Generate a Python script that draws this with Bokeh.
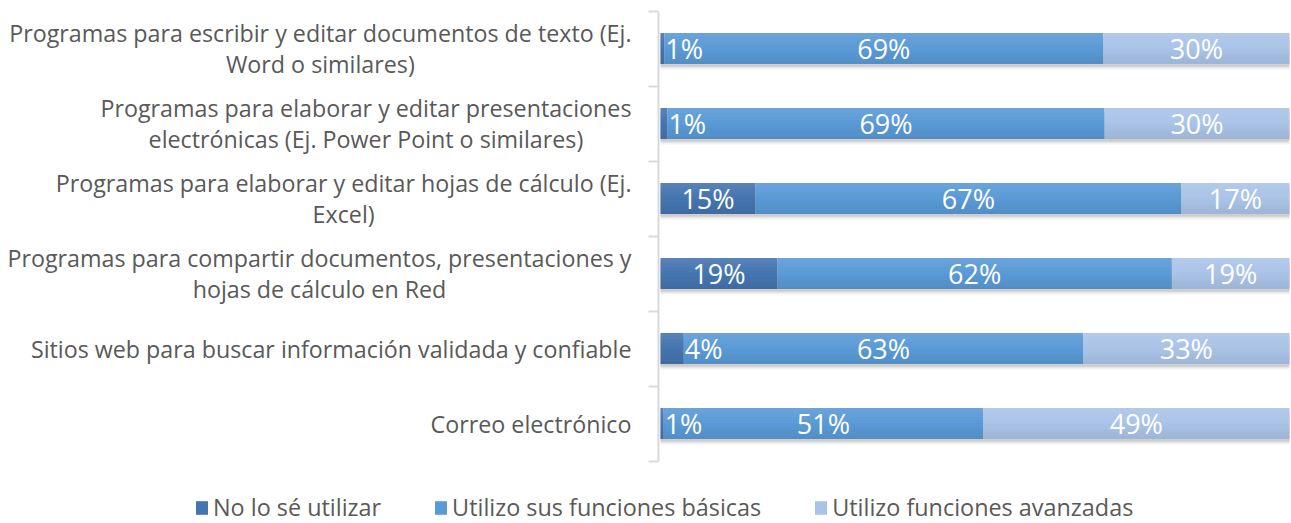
from bokeh.plotting import figure
from bokeh.models import Range1d, FixedTicker, Legend, LegendItem, ColumnDataSource, Label
from bokeh.transform import dodge
from bokeh.embed import file_html
from bokeh.resources import INLINE
from bokeh.core.properties import value

categories = [
    "Programas para escribir y editar documentos de texto (Ej.\nWord o similares)",
    "Programas para elaborar y editar presentaciones\nelectrónicas (Ej. Power Point o similares)",
    "Programas para elaborar y editar hojas de cálculo (Ej.\nExcel)",
    "Programas para compartir documentos, presentaciones y\nhojas de cálculo en Red",
    "Sitios web para buscar información validada y confiable",
    "Correo electrónico",
]
no_se = [0.6, 1.1, 15.1, 18.6, 3.7, 0.5]
basicas = [69.8, 69.5, 67.7, 62.7, 63.5, 50.8]
avanzadas = [29.6, 29.4, 17.2, 18.7, 32.8, 48.7]
labels_no = ["1%", "1%", "15%", "19%", "4%", "1%"]
labels_bas = ["69%", "69%", "67%", "62%", "63%", "51%"]
labels_av = ["30%", "30%", "17%", "19%", "33%", "49%"]
series_names = ["No lo sé utilizar", "Utilizo sus funciones básicas", "Utilizo funciones avanzadas"]
colors = ["#4575B0", "#5A9AD6", "#AAC4E8"]

FONT = "Open Sans"
TEXT_COLOR = "#595959"
n = len(categories)
ys = [n - i - 0.5 for i in range(n)]

p = figure(width=1291, height=523, output_backend="svg", toolbar_location=None,
           x_range=Range1d(-104.93, 100.32), y_range=Range1d(-0.8333, 6.14),
           x_axis_location=None, min_border=0)
p.outline_line_color = None
p.xgrid.visible = False
p.ygrid.visible = False
p.background_fill_color = "white"
p.border_fill_color = "white"

H = 0.415
base = ColumnDataSource(dict(y=ys, left=[0] * n, right=[100] * n))
# soft shadow under bars
for off, a in [(-0.075, 0.04), (-0.055, 0.06), (-0.035, 0.10)]:
    p.hbar(y=dodge("y", off, range=p.y_range), left="left", right="right", height=H, source=base,
           fill_color="#000000", fill_alpha=a, line_color=None)

series = [no_se, basicas, avanzadas]
label_sets = [labels_no, labels_bas, labels_av]
renderers = []
lefts = [0.0] * n
center_x, center_y, center_t = [], [], []
left_x, left_y, left_t = [], [], []
for vals, labs, col in zip(series, label_sets, colors):
    rights = [l + v for l, v in zip(lefts, vals)]
    src = ColumnDataSource(dict(y=ys, left=lefts, right=rights))
    r = p.hbar(y="y", left="left", right="right", height=H, source=src,
               fill_color=col, line_color=None)
    renderers.append(r)
    for l, v, yy, t in zip(lefts, vals, ys, labs):
        if v < 6:
            left_x.append(l + v); left_y.append(yy); left_t.append(t)
        else:
            center_x.append(l + v / 2); center_y.append(yy); center_t.append(t)
    lefts = rights

# vertical gradient imitation: thin bands from light (top) to dark (bottom)
NB = 10
for k in range(NB):
    frac = (k + 0.5) / NB            # 0 bottom .. 1 top
    off = -H / 2 + frac * H
    t = frac - 0.5
    colr = "#FFFFFF" if t > 0 else "#000000"
    alpha = abs(t) * (0.22 if t > 0 else 0.16)
    p.hbar(y=dodge("y", off, range=p.y_range), left="left", right="right", height=H / NB + 0.001,
           source=base, fill_color=colr, fill_alpha=alpha, line_color=None)

p.text(x=center_x, y=center_y, text=center_t, text_align="center", text_baseline="middle",
       text_color="white", text_font=value(FONT), text_font_size="27px")
p.text(x=left_x, y=left_y, text=left_t, text_align="left", text_baseline="middle", x_offset=1,
       text_color="white", text_font=value(FONT), text_font_size="27px")

AXIS_X = -0.32
ax = p.yaxis[0]
ax.fixed_location = AXIS_X
ax.bounds = (0, n)
ax.ticker = FixedTicker(ticks=[], minor_ticks=list(range(n + 1)))
ax.major_tick_out = 0
ax.major_tick_in = 0
ax.minor_tick_out = 10
ax.minor_tick_in = 0
ax.minor_tick_line_color = "#D9D9D9"
ax.minor_tick_line_width = 2
ax.axis_line_color = "#D9D9D9"
ax.axis_line_width = 2
ax.major_label_text_font_size = "0px"

for yy, cat in zip(ys, categories):
    p.add_layout(Label(x=AXIS_X, y=yy, x_offset=-27, text=cat, anchor="center_right",
                       text_align="center", text_baseline="middle", text_line_height=0.97,
                       text_font=FONT, text_font_size="23.25px", text_color=TEXT_COLOR))

legend = Legend(items=[LegendItem(label=nm, renderers=[r]) for nm, r in zip(series_names, renderers)],
                orientation="horizontal", location=(194, 0), padding=0, margin=0,
                spacing=52, label_standoff=4, glyph_width=15, glyph_height=17,
                label_text_font=FONT, label_text_font_size="23.4px", label_text_color=TEXT_COLOR,
                border_line_color=None, background_fill_alpha=0)
p.add_layout(legend, "center")

open("out.html", "w").write(file_html(p, INLINE))
